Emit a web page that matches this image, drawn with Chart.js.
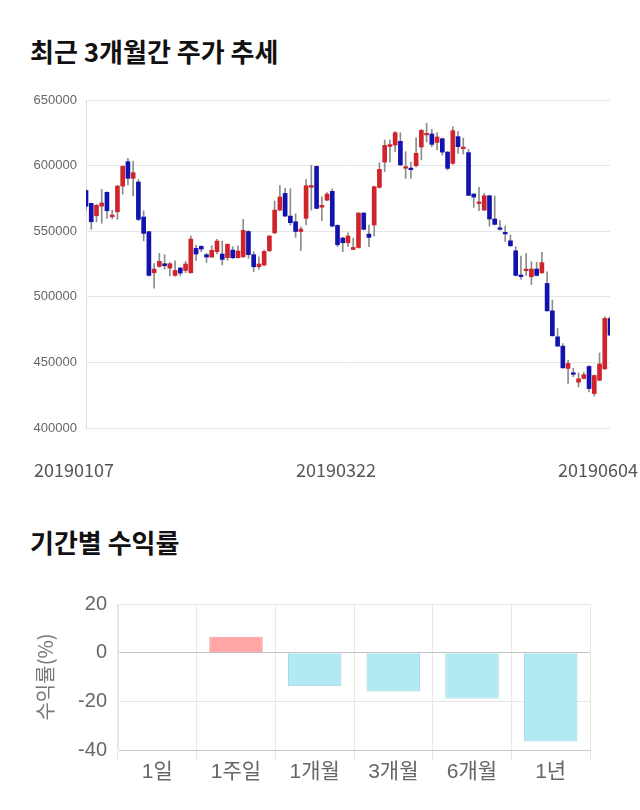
<!DOCTYPE html>
<html>
<head>
<meta charset="utf-8">
<script src="https://cdn.jsdelivr.net/npm/chart.js@4.4.0/dist/chart.umd.min.js"></script>
<style>
  body { margin: 0; background: #fff; width: 640px; height: 810px; position: relative; overflow: hidden; }
  .title { position: absolute; left: 30px; font-family: 'Noto Sans CJK KR', sans-serif; font-weight: bold; font-size: 26px; line-height: 26px; color: #111; }
  .box { position: absolute; left: 0; width: 640px; }
</style>
</head>
<body>
<div class="title" style="top:38px">최근 3개월간 주가 추세</div>
<div class="box" style="top:80px;height:410px"><canvas id="price"></canvas></div>
<div class="title" style="top:529px">기간별 수익률</div>
<div class="box" style="top:580px;height:220px"><canvas id="returns"></canvas></div>
<script>
var dates = [
  '20190107','20190108','20190109','20190110','20190111','20190114','20190115','20190116','20190117','20190118',
  '20190121','20190122','20190123','20190124','20190125','20190128','20190129','20190130','20190131',
  '20190201','20190207','20190208','20190211','20190212','20190213','20190214','20190215','20190218',
  '20190219','20190220','20190221','20190222','20190225','20190226','20190227','20190228',
  '20190304','20190305','20190306','20190307','20190308','20190311','20190312','20190313','20190314',
  '20190315','20190318','20190319','20190320','20190321','20190322','20190325','20190326','20190327',
  '20190328','20190329','20190401','20190402','20190403','20190404','20190405','20190408','20190409',
  '20190410','20190411','20190412','20190415','20190416','20190417','20190418','20190419','20190422',
  '20190423','20190424','20190425','20190426','20190429','20190430','20190502','20190503','20190507',
  '20190508','20190509','20190510','20190513','20190514','20190515','20190516','20190517','20190520',
  '20190521','20190522','20190523','20190524','20190527','20190528','20190529','20190530','20190531',
  '20190603','20190604'
];
var tickDates = ['20190107', '20190322', '20190604'];

var opens = [
  581000, 571200, 561800, 569100, 579600, 561000, 564800, 584400, 603000, 590300,
  587500, 560800, 549600, 518300, 523200, 525200, 521900, 516300, 521900, 520100,
  518300, 536900, 538400, 532100, 530300, 534400, 532600, 529800, 535600, 529800,
  530500, 549800, 532100, 522900, 524200, 535100, 548800, 566100, 578800, 561500,
  557200, 549800, 559800, 583500, 599400, 568300, 573700, 580400, 554400, 544800,
  541200, 536100, 537600, 563800, 547800, 554700, 583400, 602700, 614600, 615700,
  618500, 598000, 598100, 599900, 614200, 623400, 624100, 617700, 620500, 610300,
  601700, 622100, 612900, 609900, 578300, 571100, 566100, 577000, 559300, 552600,
  549100, 542700, 535100, 516600, 519900, 515300, 521200, 518300, 510200, 489300,
  469500, 462400, 445400, 442100, 434900, 437800, 446900, 426300, 436400, 445100,
  483500
];
var closes = [
  569000, 557200, 569700, 571500, 565600, 562300, 584400, 599400, 590300, 594600,
  559000, 548300, 516300, 521100, 527000, 523700, 525200, 520100, 518100, 525000,
  544000, 532600, 536400, 530300, 535400, 542500, 528500, 540000, 529800, 534900,
  550600, 532100, 522900, 525000, 534600, 546300, 566100, 576000, 561500, 556500,
  549800, 551600, 584700, 584800, 567400, 569700, 578300, 553900, 539700, 541200,
  546300, 537600, 563800, 551400, 545300, 583900, 597100, 615400, 616000, 625100,
  600500, 599200, 596900, 609400, 626900, 624600, 616200, 621800, 610300, 597900,
  626600, 614400, 614100, 577300, 576000, 572300, 577000, 559300, 555200, 551400,
  547900, 538900, 516300, 515400, 521100, 521200, 516300, 526000, 489300, 470300,
  462400, 445900, 449200, 440900, 437500, 440600, 430100, 440000, 448800, 483500,
  470800
];
var highs = [
  581500, 571500, 570500, 581900, 580000, 566000, 585000, 600000, 605500, 603500,
  589500, 565600, 550000, 525400, 533100, 532100, 526000, 527500, 522500, 527000,
  546300, 539400, 539000, 533000, 538900, 543800, 542500, 540500, 538200, 538900,
  559000, 550500, 534400, 530500, 535600, 546800, 573000, 584700, 582700, 582400,
  563300, 553400, 589500, 600200, 599800, 576300, 579500, 582200, 555000, 545500,
  548800, 544800, 564300, 564300, 554700, 584400, 602200, 619500, 619500, 625900,
  625100, 610600, 602700, 621100, 627500, 632200, 627600, 625100, 621000, 610800,
  629700, 625900, 621000, 612200, 578800, 583400, 578800, 577500, 576800, 558000,
  553900, 547100, 538200, 531100, 533100, 526800, 526300, 533900, 519100, 497500,
  475800, 464400, 451800, 445400, 441900, 442400, 447500, 440500, 457200, 484800,
  485000
];
var lows = [
  566000, 551400, 557200, 556000, 559800, 559500, 559000, 578300, 585200, 576800,
  558000, 542700, 515800, 506600, 522500, 521100, 516000, 515800, 516000, 518300,
  518000, 527500, 534400, 526200, 530000, 532600, 524200, 527800, 529000, 529500,
  530000, 529300, 519100, 521100, 523500, 534500, 548000, 565500, 561000, 554700,
  545300, 535100, 554700, 566100, 567000, 558000, 573000, 553400, 538200, 534400,
  538200, 535800, 537000, 551000, 538200, 546300, 582900, 595500, 602700, 610600,
  600000, 590300, 590300, 599000, 604400, 618000, 614400, 612000, 608000, 596600,
  601000, 609300, 608800, 577000, 568100, 565600, 565600, 553900, 554700, 550800,
  542200, 538400, 515800, 513400, 516300, 509400, 515800, 517800, 489000, 470000,
  462000, 445500, 433900, 439100, 431300, 437300, 427500, 424300, 436000, 444600,
  470300
];

var periods = ['1일', '1주일', '1개월', '3개월', '6개월', '1년'];
var returns = [0, 6.5, -13.8, -16.0, -18.8, -36.5];

var red = '#d0232a';
var blue = '#1212ae';
var wickGrey = '#8c8c8c';

var bodyColors = opens.map(function (o, i) { return closes[i] >= o ? red : blue; });

var priceChart = new Chart(document.getElementById('price').getContext('2d'), {
  type: 'bar',
  data: {
    labels: dates,
    datasets: [{
      label: 'body',
      data: opens.map(function (o, i) { return [o, closes[i]]; }),
      backgroundColor: bodyColors,
      borderWidth: 0,
      barThickness: 4,
      grouped: false,
      clip: 0,
      order: 1
    }, {
      label: 'wick',
      data: lows.map(function (l, i) { return [l, highs[i]]; }),
      backgroundColor: wickGrey,
      borderWidth: 0,
      barThickness: 1,
      grouped: false,
      clip: 0,
      order: 2
    }]
  },
  options: {
    responsive: true,
    maintainAspectRatio: false,
    animation: false,
    layout: { padding: { top: 20, right: 30, left: 0, bottom: 0 } },
    plugins: { legend: { display: false }, tooltip: { enabled: false } },
    scales: {
      x: {
        type: 'category',
        offset: false,
        grid: { display: false },
        border: { display: false },
        ticks: {
          autoSkip: false,
          maxRotation: 0,
          padding: 23,
          labelOffset: -12,
          color: '#555',
          font: { family: "'Noto Sans CJK KR', sans-serif", size: 18 },
          callback: function (value) {
            var d = this.getLabelForValue(value);
            return tickDates.indexOf(d) >= 0 ? d : '';
          }
        },
        afterFit: function (scale) {
          scale.height = 62;
          scale.paddingLeft = 0;
          scale.paddingRight = 0;
        }
      },
      y: {
        min: 400000,
        max: 650000,
        grid: { color: '#e6e6e6', drawTicks: false },
        border: { display: true, color: '#dcdcdc' },
        ticks: {
          stepSize: 50000,
          padding: 9,
          color: '#666',
          font: { family: "'Liberation Sans', sans-serif", size: 13 },
          callback: function (v) { return v; }
        },
        afterFit: function (scale) { scale.width = 86; }
      }
    }
  }
});

var returnsChart = new Chart(document.getElementById('returns').getContext('2d'), {
  type: 'bar',
  data: {
    labels: periods,
    datasets: [{
      label: '수익률',
      data: returns,
      backgroundColor: returns.map(function (v) { return v >= 0 ? '#ffa6a6' : '#b2eaf3'; }),
      borderColor: returns.map(function (v) { return v >= 0 ? '#f29595' : '#9fd6e0'; }),
      borderWidth: returns.map(function (v) { return v === 0 ? 0 : 1; }),
      barPercentage: 0.85,
      categoryPercentage: 0.8
    }]
  },
  options: {
    responsive: true,
    maintainAspectRatio: false,
    animation: false,
    layout: { padding: { top: 24, right: 50, left: 0, bottom: 0 } },
    plugins: { legend: { display: false }, tooltip: { enabled: false } },
    scales: {
      x: {
        grid: { color: '#e8e8e8', tickLength: 10 },
        border: { color: '#c8c8c8' },
        ticks: {
          padding: 0,
          color: '#666',
          font: { family: "'Liberation Sans', 'Noto Sans CJK KR', sans-serif", size: 21 }
        },
        afterFit: function (scale) { scale.height = 50; }
      },
      y: {
        min: -40,
        max: 20,
        grid: {
          drawTicks: false,
          color: function (ctx) { return ctx.tick && ctx.tick.value === 0 ? '#c4c4c4' : '#e6e6e6'; }
        },
        border: { color: '#e6e6e6' },
        ticks: {
          stepSize: 20,
          padding: 11,
          color: '#666',
          font: { family: "'Liberation Sans', sans-serif", size: 20 }
        },
        title: {
          display: true,
          text: '수익률(%)',
          color: '#777',
          padding: { top: 33, bottom: 0 },
          font: { family: "'Noto Sans CJK KR', sans-serif", size: 20 }
        },
        afterFit: function (scale) { scale.width = 118; }
      }
    }
  }
});
</script>
</body>
</html>
